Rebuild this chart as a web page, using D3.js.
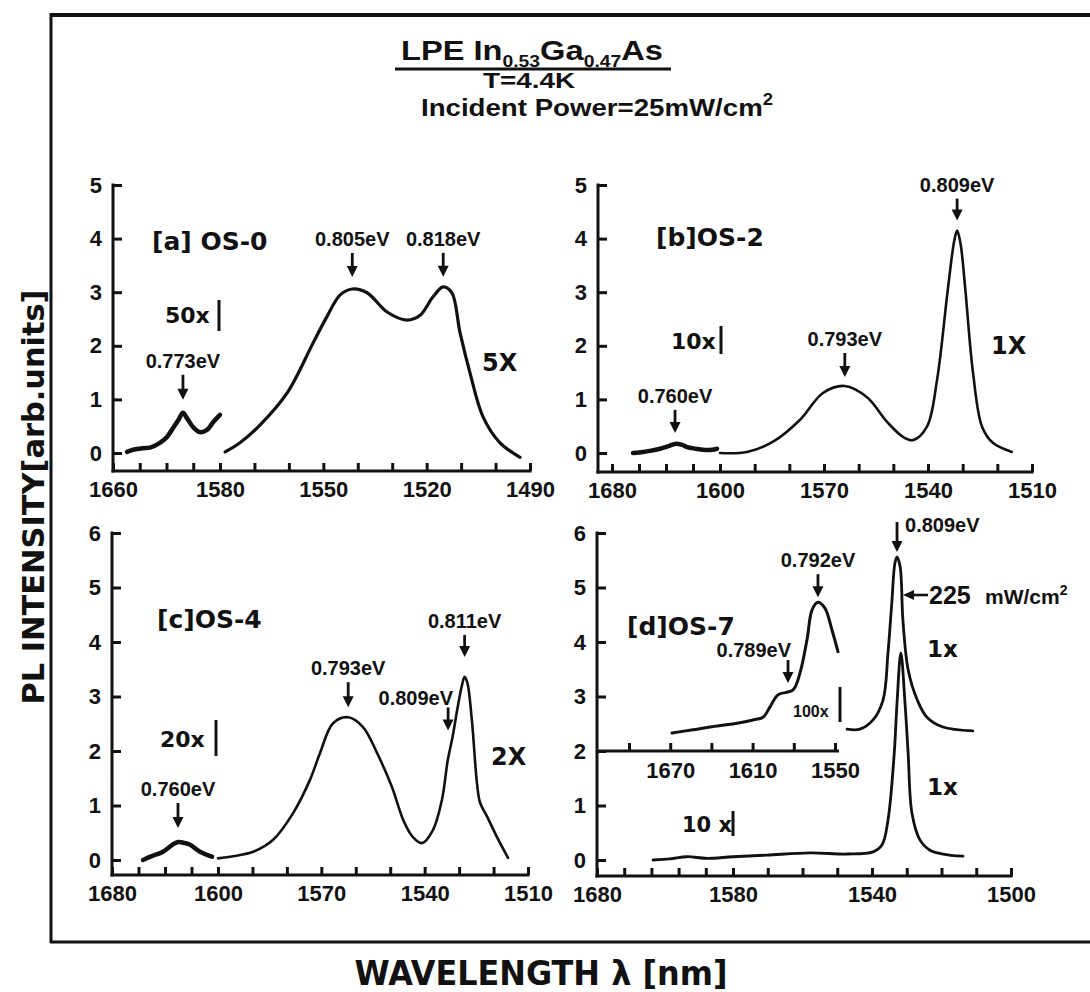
<!DOCTYPE html>
<html>
<head>
<meta charset="utf-8">
<script src="https://cdn.jsdelivr.net/npm/d3@7"></script>
<style>
  body { margin: 0; background: #fff; }
  svg { display: block; }
</style>
</head>
<body>
<svg id="fig" width="1090" height="992"></svg>
<script>
// ---------------------------------------------------------------
// Photoluminescence spectra of LPE In0.53Ga0.47As at 4.4 K
// Each curve: [wavelength (nm), PL intensity (arb. units)]
// ---------------------------------------------------------------

// (a) OS-0
const aXBreaks = [1660, 1580, 1490];
const aXTicks  = [1660, 1640, 1620, 1600, 1580, 1570, 1560, 1550, 1540, 1530, 1520, 1510, 1500, 1490];
const aXLabels = [1660, 1580, 1550, 1520, 1490];
const aYTicks  = [0, 1, 2, 3, 4, 5];
const aTail50x = [[1649.5,0.02],[1645,0.06],[1637.6,0.09],[1632.3,0.10],[1625,0.19],[1619.6,0.30],
                  [1615,0.47],[1611,0.62],[1607.7,0.75],[1604.7,0.65],[1600,0.48],[1595,0.39],
                  [1589.7,0.43],[1585,0.58],[1580,0.71]];
const aMain5x  = [[1578.5,0.02],[1574.2,0.19],[1568.4,0.52],[1560.5,1.12],[1553,2.05],[1549,2.54],
                  [1545.1,2.95],[1541.6,3.06],[1537.3,2.99],[1531.5,2.63],[1525.7,2.48],[1521.9,2.57],
                  [1518.2,2.91],[1515.2,3.10],[1512.7,2.99],[1510.3,2.24],[1507.4,1.49],[1503.6,0.67],
                  [1498.7,0.19],[1492.9,-0.08]];
const aPeaks   = [{label:"0.773eV", nm:1607.7, v:0.75},
                  {label:"0.805eV", nm:1541.6, v:3.06},
                  {label:"0.818eV", nm:1515.2, v:3.10}];

// (b) OS-2
const bXBreaks = [1680, 1600, 1510];
const bXTicks  = [1680, 1660, 1640, 1620, 1600, 1590, 1580, 1570, 1560, 1550, 1540, 1530, 1520, 1510];
const bXLabels = [1680, 1600, 1570, 1540, 1510];
const bYTicks  = [0, 1, 2, 3, 4, 5];
const bTail10x = [[1664.4,0.0],[1657,0.02],[1651.9,0.04],[1644.4,0.08],[1638,0.13],[1633.3,0.17],
                  [1628,0.15],[1624.4,0.11],[1618,0.08],[1612.6,0.06],[1606,0.06],[1602.2,0.08]];
const bMain1x  = [[1600,0.0],[1592.2,0.02],[1584.7,0.21],[1576.9,0.62],[1570.3,1.12],[1564,1.25],
                  [1557.6,1.04],[1551.8,0.58],[1547.2,0.30],[1544.3,0.24],[1540.3,0.49],[1537.4,1.36],
                  [1534.3,3.04],[1532.4,3.97],[1531.6,4.15],[1530.6,3.9],[1529.3,3.10],[1527,1.49],
                  [1524.4,0.49],[1521.3,0.19],[1515.8,0.02]];
const bPeaks   = [{label:"0.760eV", nm:1633.3, v:0.17},
                  {label:"0.793eV", nm:1564.0, v:1.25},
                  {label:"0.809eV", nm:1531.6, v:4.15}];

// (c) OS-4
const cXBreaks = [1680, 1600, 1510];
const cXTicks  = [1680, 1660, 1640, 1620, 1600, 1590, 1580, 1570, 1560, 1550, 1540, 1530, 1520, 1510];
const cXLabels = [1680, 1600, 1570, 1540, 1510];
const cYTicks  = [0, 1, 2, 3, 4, 5, 6];
const cTail20x = [[1656.6,0.0],[1650,0.07],[1641.5,0.15],[1635,0.27],[1630.2,0.33],[1625,0.31],
                  [1621.1,0.28],[1613.6,0.15],[1604.5,0.06]];
const cMain2x  = [[1600,0.03],[1595.6,0.07],[1589.8,0.15],[1584,0.37],[1578.2,0.86],[1573.3,1.47],
                  [1570.4,1.96],[1566.6,2.51],[1562.2,2.62],[1557.9,2.44],[1553.8,1.96],[1549.5,1.34],
                  [1546.2,0.73],[1543.4,0.42],[1540.8,0.31],[1537.6,0.55],[1535,1.10],[1533.3,1.83],
                  [1531.9,2.26],[1530.4,2.81],[1529.3,3.17],[1528.4,3.36],[1527.6,3.25],[1526.3,2.57],
                  [1524.8,1.4],[1523.9,1.05],[1521.9,0.80],[1519,0.42],[1515.8,0.04]];
const cPeaks   = [{label:"0.760eV", nm:1630.2, v:0.33},
                  {label:"0.793eV", nm:1562.2, v:2.62},
                  {label:"0.809eV", nm:1533.2, v:1.90},
                  {label:"0.811eV", nm:1528.4, v:3.36}];

// (d) OS-7
const dXBreaks = [1680, 1580, 1500];
const dXTicks  = [1680, 1660, 1640, 1620, 1600, 1580, 1570, 1560, 1550, 1540, 1530, 1520, 1510, 1500];
const dXLabels = [1680, 1580, 1540, 1500];
const dYTicks  = [0, 1, 2, 3, 4, 5, 6];
const dLow25   = [[1638.8,0.0],[1626.3,0.02],[1613.8,0.06],[1599.1,0.03],[1580,0.06],[1570.2,0.09],
                  [1557.8,0.13],[1547.2,0.11],[1539.7,0.15],[1537.1,0.28],[1535.4,0.73],[1533.6,1.96],
                  [1532.8,2.88],[1531.7,3.8],[1530.5,2.88],[1529.6,1.96],[1528.5,0.86],[1526.2,0.37],
                  [1523.3,0.18],[1519.6,0.11],[1513.8,0.07]];
const dHigh225 = [[1547.2,2.4],[1543.5,2.4],[1539.7,2.57],[1536.8,2.94],[1535.4,3.8],[1534.3,4.72],
                  [1533.4,5.45],[1532.8,5.56],[1531.9,5.38],[1531.1,4.4],[1529.6,3.49],[1527,2.94],
                  [1524.2,2.62],[1519.6,2.44],[1511,2.37]];
const dPeaks   = [{label:"0.809eV", nm:1532.8, v:5.56}];
// inset: 100x magnified low-energy band, drawn on a baseline at intensity 2
const dInsetDomain = [1700, 1550];
const dInsetTicks  = [1700, 1670, 1640, 1610, 1580, 1550];
const dInsetLabels = [1670, 1610, 1550];
const dInset100x   = [[1668.7,2.33],[1653.4,2.39],[1641,2.44],[1621.4,2.51],[1609.7,2.57],[1602.4,2.62],
                      [1597.3,2.81],[1591.5,3.03],[1580.6,3.12],[1575.5,3.43],[1570.4,4.04],[1566.7,4.59],
                      [1562.4,4.73],[1557.3,4.62],[1552.2,4.22],[1547.8,3.82]];
const dInsetPeaks  = [{label:"0.792eV", nm:1562.4, v:4.73},
                      {label:"0.789eV", nm:1584.2, v:3.10}];

// ---------------------------------------------------------------
const INK  = "#111";
const SANS = "'Liberation Sans', Arial, sans-serif";
const GEO  = "'DejaVu Sans', Verdana, sans-serif";
const EV_SIZE = 20;

const svg = d3.select("#fig");
svg.append("rect").attr("width", 1090).attr("height", 992).attr("fill", "#fff");

// outer frame (open on the right edge)
const frame = svg.append("g").attr("stroke", INK).attr("fill", "none");
frame.append("line").attr("x1", 50).attr("x2", 1090).attr("y1", 15).attr("y2", 15).attr("stroke-width", 4);
frame.append("line").attr("x1", 51).attr("x2", 51).attr("y1", 13).attr("y2", 943).attr("stroke-width", 3);
frame.append("line").attr("x1", 50).attr("x2", 1090).attr("y1", 942).attr("y2", 942).attr("stroke-width", 3);

// title block
const title = svg.append("text").attr("x", 532).attr("y", 60).attr("text-anchor", "middle")
  .attr("font-family", SANS).attr("font-weight", "bold").attr("font-size", 27).attr("fill", INK)
  .attr("textLength", 262).attr("lengthAdjust", "spacingAndGlyphs");
title.append("tspan").text("LPE In");
title.append("tspan").attr("font-size", 16).attr("dy", 7).text("0.53");
title.append("tspan").attr("dy", -7).text("Ga");
title.append("tspan").attr("font-size", 16).attr("dy", 7).text("0.47");
title.append("tspan").attr("dy", -7).text("As");
svg.append("line").attr("x1", 395).attr("x2", 671).attr("y1", 69).attr("y2", 69)
  .attr("stroke", INK).attr("stroke-width", 3);
svg.append("text").attr("x", 529).attr("y", 88).attr("text-anchor", "middle")
  .attr("font-family", SANS).attr("font-weight", "bold").attr("font-size", 22).attr("fill", INK)
  .attr("textLength", 92).attr("lengthAdjust", "spacingAndGlyphs").text("T=4.4K");
const pw = svg.append("text").attr("x", 421).attr("y", 116)
  .attr("font-family", SANS).attr("font-weight", "bold").attr("font-size", 24).attr("fill", INK)
  .attr("textLength", 352).attr("lengthAdjust", "spacingAndGlyphs");
pw.append("tspan").text("Incident Power=25mW/cm");
pw.append("tspan").attr("font-size", 16).attr("dy", -11).text("2");

// axis titles
svg.append("text").attr("transform", "translate(44,497) rotate(-90)").attr("text-anchor", "middle")
  .attr("font-family", GEO).attr("font-weight", "bold").attr("font-size", 31).attr("fill", INK)
  .attr("textLength", 415).attr("lengthAdjust", "spacingAndGlyphs").text("PL INTENSITY[arb.units]");
svg.append("text").attr("x", 541).attr("y", 985).attr("text-anchor", "middle")
  .attr("font-family", GEO).attr("font-weight", "bold").attr("font-size", 33).attr("fill", INK)
  .attr("textLength", 373).attr("lengthAdjust", "spacingAndGlyphs").text("WAVELENGTH λ [nm]");

// ---------------------------------------------------------------
function downArrow(g, x, yTip, len) {
  g.append("line").attr("x1", x).attr("x2", x).attr("y1", yTip - len).attr("y2", yTip - 8)
    .attr("stroke", INK).attr("stroke-width", 2.8);
  g.append("path").attr("d", `M${x - 5.5},${yTip - 11}L${x + 5.5},${yTip - 11}L${x},${yTip}Z`).attr("fill", INK);
}

function label(g, x, y, txt, size, font, anchor) {
  return g.append("text").attr("x", x).attr("y", y).attr("text-anchor", anchor || "start")
    .attr("font-family", font || GEO).attr("font-weight", "bold").attr("font-size", size)
    .attr("fill", INK).text(txt);
}

function gainMark(g, x, y, txt, barX, barTop, barBot, size, font) {
  label(g, x, y, txt, size, font);
  g.append("line").attr("x1", barX).attr("x2", barX).attr("y1", barTop).attr("y2", barBot)
    .attr("stroke", INK).attr("stroke-width", 3);
}

function styleAxis(sel) {
  sel.select(".domain").remove();
  sel.selectAll("line").attr("stroke", INK).attr("stroke-width", 3);
  sel.selectAll("text").attr("font-family", SANS).attr("font-weight", "bold")
    .attr("font-size", 22).attr("fill", INK);
}

function peakNote(g, px, py, pk, s) {
  const tip = py - s.gap, top = tip - s.len;
  downArrow(g, px, tip, s.len);
  label(g, px + (s.dx || 0), top - (s.lift == null ? 7 : s.lift), pk.label, EV_SIZE, SANS, s.anchor || "middle");
}

function drawPanel(p) {
  const g = svg.append("g");
  const x = d3.scaleLinear().domain(p.xBreaks).range(p.xRange);
  const y = d3.scaleLinear().domain([0, p.yMax]).range([p.y0, p.yTop]);

  // x axis: inward ticks, labels on a subset
  g.append("g").attr("transform", `translate(0,${p.base})`)
    .call(d3.axisBottom(x).tickValues(p.xTicks).tickSizeInner(-8).tickSizeOuter(0).tickPadding(10)
      .tickFormat(d => p.xLabels.includes(d) ? d : ""))
    .call(styleAxis);
  g.append("line").attr("x1", p.axisX - 1.5).attr("x2", x(p.xTicks[p.xTicks.length - 1]) + 1.5)
    .attr("y1", p.base).attr("y2", p.base).attr("stroke", INK).attr("stroke-width", 3);

  // y axis
  g.append("g").attr("transform", `translate(${p.axisX},0)`)
    .call(d3.axisLeft(y).tickValues(p.yTicks).tickFormat(d3.format("d"))
      .tickSizeInner(-9).tickSizeOuter(0).tickPadding(11))
    .call(styleAxis);
  g.append("line").attr("x1", p.axisX).attr("x2", p.axisX).attr("y1", y(p.yMax) - 1.5).attr("y2", p.base + 1.5)
    .attr("stroke", INK).attr("stroke-width", 3);

  const line = d3.line().x(d => x(d[0])).y(d => y(d[1])).curve(d3.curveCatmullRom.alpha(0.5));
  p.curves.forEach(c => {
    g.append("path").attr("d", line(c.data)).attr("fill", "none").attr("stroke", INK)
      .attr("stroke-width", c.w).attr("stroke-linejoin", "round").attr("stroke-linecap", "round");
  });

  p.peaks.forEach((pk, i) => peakNote(g, x(pk.nm), y(pk.v), pk, p.peakStyle[i]));
  return { g, x, y };
}

// ---------------------------------------------------------------
const pa = drawPanel({
  xBreaks: aXBreaks, xRange: [113, 220, 530], axisX: 113, base: 471,
  yMax: 5, y0: 453, yTop: 185, xTicks: aXTicks, xLabels: aXLabels, yTicks: aYTicks,
  curves: [{ data: aTail50x, w: 4.5 }, { data: aMain5x, w: 3.2 }],
  peaks: aPeaks, peakStyle: [{ gap: 13, len: 25 }, { gap: 12, len: 24 }, { gap: 10, len: 24 }]
});
label(pa.g, 152, 250, "[a] OS-0", 25);
gainMark(pa.g, 165, 323, "50x", 219, 300, 331, 22);
label(pa.g, 482, 371, "5X", 24);

const pb = drawPanel({
  xBreaks: bXBreaks, xRange: [612, 720, 1032], axisX: 598, base: 472,
  yMax: 5, y0: 453, yTop: 185, xTicks: bXTicks, xLabels: bXLabels, yTicks: bYTicks,
  curves: [{ data: bTail10x, w: 4.5 }, { data: bMain1x, w: 2.6 }],
  peaks: bPeaks, peakStyle: [{ gap: 11, len: 23 }, { gap: 9, len: 24 }, { gap: 10, len: 22 }]
});
label(pb.g, 656, 246, "[b]OS-2", 25);
gainMark(pb.g, 671, 349, "10x", 721, 326, 354, 22);
label(pb.g, 991, 354, "1X", 24);

const pc = drawPanel({
  xBreaks: cXBreaks, xRange: [112, 218, 528], axisX: 112, base: 875,
  yMax: 6, y0: 860, yTop: 533, xTicks: cXTicks, xLabels: cXLabels, yTicks: cYTicks,
  curves: [{ data: cTail20x, w: 4.5 }, { data: cMain2x, w: 2.6 }],
  peaks: cPeaks, peakStyle: [{ gap: 14, len: 25 }, { gap: 10, len: 25 },
                             { gap: 26, len: 23, anchor: "end", dx: 5, lift: 2 }, { gap: 20, len: 22 }]
});
label(pc.g, 157, 628, "[c]OS-4", 25);
gainMark(pc.g, 160, 747, "20x", 216, 720, 756, 22);
label(pc.g, 491, 765, "2X", 24);

const pd = drawPanel({
  xBreaks: dXBreaks, xRange: [597, 733, 1011], axisX: 597, base: 876,
  yMax: 6, y0: 860, yTop: 533, xTicks: dXTicks, xLabels: dXLabels, yTicks: dYTicks,
  curves: [{ data: dLow25, w: 2.8 }, { data: dHigh225, w: 2.8 }],
  peaks: dPeaks, peakStyle: [{ gap: 5, len: 30, anchor: "start", dx: 8, lift: -10 }]
});

// inset of panel (d)
{
  const g = pd.g, y = pd.y;
  const xi = d3.scaleLinear().domain(dInsetDomain).range([629, 835]);
  const yb = y(2);
  g.append("g").attr("transform", `translate(0,${yb})`)
    .call(d3.axisBottom(xi).tickValues(dInsetTicks).tickSizeInner(-8).tickSizeOuter(0).tickPadding(11)
      .tickFormat(d => dInsetLabels.includes(d) ? d : ""))
    .call(styleAxis);
  g.append("line").attr("x1", 597).attr("x2", xi(1550) + 4).attr("y1", yb).attr("y2", yb)
    .attr("stroke", INK).attr("stroke-width", 3);
  const line = d3.line().x(d => xi(d[0])).y(d => y(d[1])).curve(d3.curveCatmullRom.alpha(0.5));
  g.append("path").attr("d", line(dInset100x)).attr("fill", "none").attr("stroke", INK)
    .attr("stroke-width", 3).attr("stroke-linejoin", "round").attr("stroke-linecap", "round");
  const st = [{ gap: 5, len: 23 }, { gap: 8, len: 23, anchor: "end", dx: 3, lift: 3 }];
  dInsetPeaks.forEach((pk, i) => peakNote(g, xi(pk.nm), y(pk.v), pk, st[i]));
  gainMark(g, 793, 717, "100x", 840, 687, 722, 16, SANS);
}
label(pd.g, 627, 635, "[d]OS-7", 25);
label(pd.g, 927, 657, "1x", 23);
label(pd.g, 927, 795, "1x", 23);
gainMark(pd.g, 682, 832, "10 x", 733, 811, 836, 21);
// excitation-power note on the upper spectrum
{
  const g = pd.g;
  g.append("line").attr("x1", 912).attr("x2", 928).attr("y1", 595).attr("y2", 595)
    .attr("stroke", INK).attr("stroke-width", 2.6);
  g.append("path").attr("d", "M903,595L914,590L914,600Z").attr("fill", INK);
  label(g, 929, 604, "225", 25, SANS);
  const u = label(g, 985, 604, "mW/cm", 21, SANS);
  u.append("tspan").attr("font-size", 14).attr("dy", -9).text("2");
}
</script>
</body>
</html>
